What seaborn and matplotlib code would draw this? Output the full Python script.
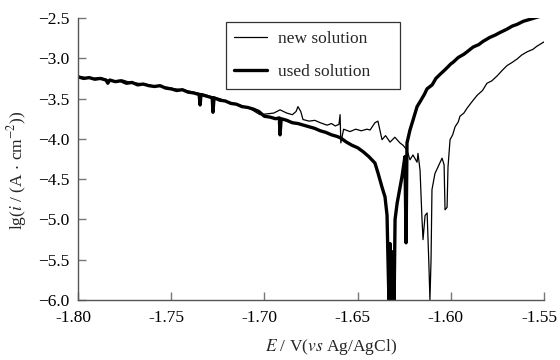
import matplotlib
matplotlib.use("Agg")
import matplotlib.pyplot as plt
import matplotlib.transforms as mtransforms
import seaborn as sns
import pandas as pd
import numpy as np

# ---- data ----
E_used = [-1.800, -1.797, -1.794, -1.791, -1.788, -1.785, -1.784, -1.783, -1.780, -1.777,
          -1.774, -1.771, -1.768, -1.765, -1.762, -1.759, -1.756, -1.753, -1.750, -1.747,
          -1.744, -1.741, -1.738, -1.735, -1.7345, -1.734, -1.731, -1.728, -1.7276, -1.727,
          -1.724, -1.721, -1.718, -1.715, -1.712, -1.709, -1.706, -1.703, -1.700, -1.697,
          -1.694, -1.692, -1.6916, -1.691, -1.688, -1.685, -1.682, -1.679, -1.676, -1.673,
          -1.670, -1.667, -1.664, -1.661, -1.659, -1.656, -1.653, -1.650, -1.647, -1.644,
          -1.6407, -1.6391, -1.6369, -1.6353, -1.6342, -1.6337, -1.6332, -1.6326, -1.6320, -1.6315,
          -1.6310, -1.6304, -1.6299, -1.6288, -1.6262, -1.6246, -1.6240, -1.6235, -1.6219, -1.6203,
          -1.6181, -1.6160, -1.6140, -1.6128, -1.6100, -1.6080, -1.6058, -1.6030, -1.6000, -1.5988,
          -1.5960, -1.5930, -1.5913, -1.5880, -1.5850, -1.5827, -1.5790, -1.5760, -1.5736, -1.5700,
          -1.5670, -1.5645, -1.5610, -1.5580, -1.5538, -1.5522]
lg_used = [-3.23, -3.25, -3.24, -3.26, -3.25, -3.27, -3.31, -3.27, -3.29, -3.28,
           -3.31, -3.30, -3.33, -3.32, -3.34, -3.35, -3.34, -3.37, -3.38, -3.40,
           -3.39, -3.42, -3.43, -3.45, -3.58, -3.45, -3.47, -3.49, -3.67, -3.49,
           -3.52, -3.53, -3.56, -3.57, -3.60, -3.61, -3.63, -3.66, -3.72, -3.73,
           -3.75, -3.74, -3.95, -3.75, -3.77, -3.80, -3.81, -3.83, -3.85, -3.87,
           -3.90, -3.92, -3.95, -3.97, -3.99, -4.04, -4.08, -4.11, -4.16, -4.22,
           -4.30, -4.42, -4.60, -4.72, -4.95, -5.50, -6.00, -5.30, -5.90, -6.00,
           -5.40, -6.00, -5.00, -4.80, -4.47, -4.22, -5.29, -4.05, -3.89, -3.77,
           -3.60, -3.52, -3.44, -3.38, -3.33, -3.25, -3.20, -3.14, -3.07, -3.05,
           -2.99, -2.95, -2.92, -2.86, -2.83, -2.79, -2.74, -2.71, -2.68, -2.64,
           -2.60, -2.58, -2.54, -2.52, -2.49, -2.48]

E_new = [-1.800, -1.796, -1.792, -1.788, -1.784, -1.780, -1.776, -1.772, -1.768, -1.764,
         -1.760, -1.756, -1.752, -1.748, -1.744, -1.740, -1.736, -1.732, -1.728, -1.724,
         -1.720, -1.716, -1.712, -1.708, -1.7024, -1.6950, -1.6916, -1.6880, -1.6850, -1.6830,
         -1.6820, -1.6805, -1.6793, -1.6760, -1.6730, -1.6700, -1.6664, -1.6640, -1.6620, -1.6600,
         -1.6594, -1.6590, -1.6575, -1.6541, -1.6510, -1.6480, -1.6450, -1.6433, -1.6407, -1.6391,
         -1.6369, -1.6350, -1.6326, -1.6300, -1.6273, -1.6256, -1.6235, -1.6219, -1.6203, -1.6181,
         -1.6176, -1.6165, -1.6155, -1.6149, -1.6138, -1.6127, -1.6117, -1.6112, -1.6106, -1.6101,
         -1.6085, -1.6069, -1.6047, -1.6036, -1.6031, -1.6020, -1.6015, -1.6004, -1.5990, -1.5977,
         -1.5960, -1.5951, -1.5930, -1.5913, -1.5890, -1.5859, -1.5830, -1.5806, -1.5780, -1.5752,
         -1.5720, -1.5698, -1.5670, -1.5645, -1.5620, -1.5591, -1.5560, -1.5538, -1.5495]
lg_new = [-3.22, -3.24, -3.25, -3.24, -3.27, -3.28, -3.27, -3.30, -3.31, -3.32,
          -3.34, -3.35, -3.36, -3.38, -3.39, -3.41, -3.43, -3.45, -3.48, -3.50,
          -3.54, -3.56, -3.59, -3.62, -3.70, -3.68, -3.64, -3.68, -3.70, -3.66,
          -3.60, -3.66, -3.76, -3.78, -3.77, -3.80, -3.83, -3.81, -3.84, -3.82,
          -3.70, -4.05, -3.88, -3.91, -3.88, -3.90, -3.88, -3.89, -3.80, -3.78,
          -4.01, -3.96, -4.04, -3.98, -4.05, -4.08, -4.14, -4.26, -4.20, -4.29,
          -4.18, -4.39, -4.97, -5.25, -4.95, -4.92, -5.60, -6.00, -5.50, -4.63,
          -4.43, -4.35, -4.24, -4.32, -4.88, -4.85, -4.35, -4.01, -3.95, -3.85,
          -3.79, -3.72, -3.68, -3.62, -3.55, -3.46, -3.40, -3.31, -3.28, -3.22,
          -3.14, -3.09, -3.05, -3.01, -2.96, -2.92, -2.89, -2.85, -2.79]

x_ticks = [-1.80, -1.75, -1.70, -1.65, -1.60, -1.55]
y_ticks = [-6.0, -5.5, -5.0, -4.5, -4.0, -3.5, -3.0, -2.5]
series_names = ["new solution", "used solution"]

df_new = pd.DataFrame({"E": E_new, "lg": lg_new})
df_used = pd.DataFrame({"E": E_used, "lg": lg_used})

# ---- style ----
sns.set_style("ticks")
plt.rcParams["font.family"] = ["Liberation Serif", "DejaVu Serif"]
plt.rcParams["mathtext.fontset"] = "stix"
plt.rcParams["axes.unicode_minus"] = True

fig = plt.figure(figsize=(5.6, 3.6), dpi=100)
ax = fig.add_axes([78 / 560, 60 / 360, 466 / 560, 282 / 360])

sns.lineplot(data=df_new, x="E", y="lg", ax=ax, sort=False, estimator=None,
             color="black", linewidth=0.9, label=series_names[0])
sns.lineplot(data=df_used, x="E", y="lg", ax=ax, sort=False, estimator=None,
             color="black", linewidth=2.4, label=series_names[1])

ax.set_xlim(-1.80, -1.55)
ax.set_ylim(-6.0, -2.5)
ax.set_xticks(x_ticks)
ax.set_yticks(y_ticks)
ax.set_xticklabels([f"{v:.2f}" for v in x_ticks])
ax.set_yticklabels([f"{v:.1f}".replace("-", "\u2212") for v in y_ticks])
ax.tick_params(direction="in", length=6, width=1, color="#777777",
               labelsize=12.5, labelcolor="black")
ax.tick_params(axis="x", pad=7)
ax.tick_params(axis="y", pad=6)

shift = mtransforms.ScaledTranslation(-5 / 100, 0, fig.dpi_scale_trans)
for lab in ax.get_xticklabels():
    lab.set_transform(lab.get_transform() + shift)

for s in ["top", "right"]:
    ax.spines[s].set_visible(False)
for s in ["left", "bottom"]:
    ax.spines[s].set_color("#555555")
    ax.spines[s].set_linewidth(1.0)

ax.set_xlabel(r"$\mathit{E}$ / V($\mathit{vs}$ Ag/AgCl)", fontsize=12.5)
ax.set_ylabel(r"lg($\mathit{i}$ / (A$\,\cdot\,$cm$^{-2}$))", fontsize=12.5)
ax.xaxis.set_label_coords(0.543, -0.13)
ax.yaxis.set_label_coords(-0.105, 0.46)

leg = ax.legend(loc="upper left", bbox_to_anchor=(0.317, 0.745, 0.374, 0.241),
                mode="expand", borderaxespad=0, frameon=True,
                fancybox=False, edgecolor="black", fontsize=12.5,
                handlelength=1.9, borderpad=0.5, labelspacing=1.0, handletextpad=0.6)
leg.get_frame().set_linewidth(0.9)

fig.savefig("out.png", dpi=100, facecolor="white")
